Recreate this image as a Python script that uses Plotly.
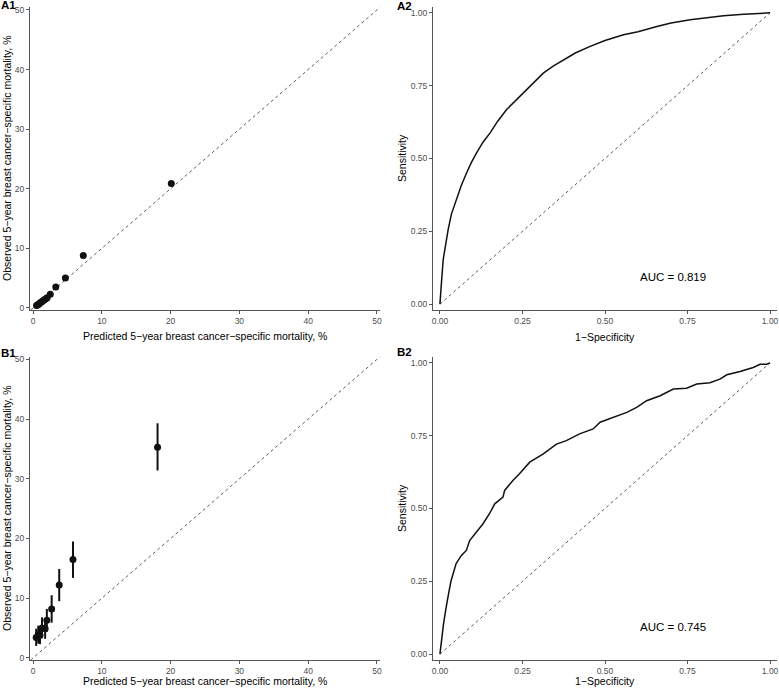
import plotly.graph_objects as go

W, H = 779, 691

# ---------------- data ----------------
# A1: calibration, development cohort
a1_pred = [0.5, 0.65, 0.8, 0.95, 1.1, 1.25, 1.45, 1.65, 1.85, 2.05, 2.5, 3.3, 4.7, 7.3, 20.1]
a1_obs = [0.40, 0.50, 0.62, 0.78, 0.92, 1.05, 1.20, 1.38, 1.55, 1.70, 2.3, 3.5, 5.0, 8.8, 20.9]

# B1: calibration, validation cohort (with 95% CI)
b1_pred = [0.45, 0.75, 1.0, 1.3, 1.75, 2.0, 2.7, 3.8, 5.8, 18.1]
b1_obs = [3.4, 3.9, 3.8, 5.0, 4.9, 6.3, 8.2, 12.2, 16.5, 35.3]
b1_lo = [2.0, 2.4, 2.3, 3.3, 3.2, 4.4, 5.9, 9.5, 13.4, 31.4]
b1_hi = [4.9, 5.4, 5.3, 6.8, 6.6, 8.2, 10.5, 14.9, 19.5, 39.3]

# A2: ROC curve, development cohort
a2_fpr = [0.0, 0.002, 0.005, 0.01, 0.018, 0.025, 0.035, 0.05, 0.065, 0.081, 0.095, 0.111, 0.13,
          0.152, 0.175, 0.202, 0.228, 0.253, 0.283, 0.313, 0.343, 0.374, 0.41, 0.455, 0.5,
          0.556, 0.6, 0.657, 0.7, 0.758, 0.8, 0.859, 0.92, 1.0]
a2_tpr = [0.0, 0.04, 0.08, 0.154, 0.21, 0.257, 0.31, 0.36, 0.408, 0.451, 0.486, 0.519, 0.555,
          0.588, 0.628, 0.668, 0.698, 0.725, 0.76, 0.793, 0.817, 0.839, 0.862, 0.885, 0.905,
          0.925, 0.935, 0.953, 0.965, 0.976, 0.982, 0.99, 0.995, 1.0]

# B2: ROC curve, validation cohort
b2_fpr = [0.0, 0.004, 0.011, 0.019, 0.024, 0.029, 0.034, 0.044, 0.049, 0.065, 0.08, 0.09, 0.11,
          0.13, 0.15, 0.166, 0.191, 0.196, 0.221, 0.241, 0.272, 0.312, 0.353, 0.383, 0.423,
          0.464, 0.485, 0.525, 0.566, 0.596, 0.626, 0.667, 0.707, 0.747, 0.778, 0.818,
          0.848, 0.869, 0.909, 0.949, 0.97, 0.99, 1.0]
b2_tpr = [0.0, 0.048, 0.105, 0.162, 0.202, 0.225, 0.253, 0.288, 0.311, 0.339, 0.356, 0.39, 0.419,
          0.447, 0.482, 0.516, 0.539, 0.562, 0.596, 0.619, 0.659, 0.687, 0.721, 0.733, 0.756,
          0.773, 0.796, 0.813, 0.83, 0.847, 0.87, 0.887, 0.91, 0.913, 0.927, 0.932,
          0.944, 0.959, 0.97, 0.984, 0.995, 0.995, 1.0]

auc_labels = ["AUC = 0.819", "AUC = 0.745"]
calib_ticks = [0, 10, 20, 30, 40, 50]
roc_ticks = [0, 0.25, 0.5, 0.75, 1.0]
roc_ticktext = ["0.00", "0.25", "0.50", "0.75", "1.00"]

x_cal_title = "Predicted 5\u2212year breast cancer\u2212specific mortality, %"
y_cal_title = "Observed 5\u2212year breast cancer\u2212specific mortality, %"
x_roc_title = "1\u2212Specificity"
y_roc_title = "Sensitivity"
panel_labels = ["A1", "A2", "B1", "B2"]

# ---------------- layout geometry (pixels) ----------------
def px_x(p):
    return p / W

def px_y(p):
    return 1 - p / H

FONT = "Liberation Sans, Arial, sans-serif"
AXCOL = "#555555"
TICKCOL = "#4D4D4D"

cal_xrange = [-0.45, 50.45]
cal_yrange_top = [-0.35, 50.5]
cal_yrange_bot = [-0.35, 50.4]
roc_range = [-0.021, 1.021]
roc_yrange = [-0.02, 1.02]

fig = go.Figure()

# A1 points
fig.add_trace(go.Scatter(x=a1_pred, y=a1_obs, mode="markers", xaxis="x", yaxis="y",
                         marker=dict(color="#111111", size=7), showlegend=False,
                         hoverinfo="skip"))
# B1 points with CIs
fig.add_trace(go.Scatter(x=b1_pred, y=b1_obs, mode="markers", xaxis="x3", yaxis="y3",
                         marker=dict(color="#111111", size=7),
                         error_y=dict(type="data", symmetric=False,
                                      array=[h - o for h, o in zip(b1_hi, b1_obs)],
                                      arrayminus=[o - l for o, l in zip(b1_obs, b1_lo)],
                                      width=0, thickness=2, color="#111111"),
                         showlegend=False, hoverinfo="skip"))
# ROC curves
fig.add_trace(go.Scatter(x=a2_fpr, y=a2_tpr, mode="lines", xaxis="x2", yaxis="y2",
                         line=dict(color="#111111", width=1.5), showlegend=False,
                         hoverinfo="skip"))
fig.add_trace(go.Scatter(x=b2_fpr, y=b2_tpr, mode="lines", xaxis="x4", yaxis="y4",
                         line=dict(color="#111111", width=1.5), showlegend=False,
                         hoverinfo="skip"))

# reference diagonals
diag_style = dict(color="#333333", width=0.8, dash="dot")
shapes = [
    dict(type="line", xref="x", yref="y", x0=cal_yrange_top[0], y0=cal_yrange_top[0],
         x1=cal_xrange[1], y1=cal_xrange[1], line=diag_style, layer="below"),
    dict(type="line", xref="x3", yref="y3", x0=cal_yrange_bot[0], y0=cal_yrange_bot[0],
         x1=cal_xrange[1], y1=cal_xrange[1], line=diag_style, layer="below"),
    dict(type="line", xref="x2", yref="y2", x0=0, y0=0, x1=1, y1=1, line=diag_style, layer="below"),
    dict(type="line", xref="x4", yref="y4", x0=0, y0=0, x1=1, y1=1, line=diag_style, layer="below"),
]


def axis(domain, rng, tickvals, ticktext=None, anchor=None):
    d = dict(domain=domain, range=rng, tickvals=tickvals, showgrid=False, zeroline=False,
             showline=True, linecolor=AXCOL, linewidth=1, ticks="outside", ticklen=3,
             tickwidth=1, tickcolor=AXCOL, tickfont=dict(family=FONT, size=8.5, color=TICKCOL),
             anchor=anchor, fixedrange=True, automargin=False, showspikes=False)
    if ticktext is not None:
        d["ticktext"] = ticktext
    return d


top_dom = [px_y(310), px_y(7)]
bot_dom = [px_y(660), px_y(357)]
left_dom = [px_x(30), px_x(380)]
right_dom = [px_x(433), px_x(777)]

layout = dict(
    width=W, height=H, margin=dict(l=0, r=0, t=0, b=0, pad=0, autoexpand=False),
    paper_bgcolor="white", plot_bgcolor="white", hovermode=False,
    font=dict(family=FONT, color="black"),
    xaxis=axis(left_dom, cal_xrange, calib_ticks, anchor="y"),
    yaxis=axis(top_dom, cal_yrange_top, calib_ticks, anchor="x"),
    xaxis2=axis(right_dom, roc_range, roc_ticks, roc_ticktext, anchor="y2"),
    yaxis2=axis(top_dom, roc_yrange, roc_ticks, roc_ticktext, anchor="x2"),
    xaxis3=axis(left_dom, cal_xrange, calib_ticks, anchor="y3"),
    yaxis3=axis(bot_dom, cal_yrange_bot, calib_ticks, anchor="x3"),
    xaxis4=axis(right_dom, roc_range, roc_ticks, roc_ticktext, anchor="y4"),
    yaxis4=axis(bot_dom, roc_yrange, roc_ticks, roc_ticktext, anchor="x4"),
    shapes=shapes,
)
fig.update_layout(**layout)

ann = []
title_font = dict(family=FONT, size=10.5, color="black")
# x titles
for cx, cy, t in [(205, 336, x_cal_title), (605, 337, x_roc_title),
                  (205, 681, x_cal_title), (605, 681, x_roc_title)]:
    ann.append(dict(text=t, x=px_x(cx), y=px_y(cy), xref="paper", yref="paper",
                    xanchor="center", yanchor="middle", showarrow=False, font=title_font))
# y titles
for cx, cy, t in [(7, 158, y_cal_title), (402, 158, y_roc_title),
                  (7, 508, y_cal_title), (402, 508, y_roc_title)]:
    ann.append(dict(text=t, x=px_x(cx), y=px_y(cy), xref="paper", yref="paper",
                    xanchor="center", yanchor="middle", showarrow=False, textangle=-90,
                    font=title_font))
# panel labels
for lx, ly, t in [(0, 5, panel_labels[0]), (396, 6, panel_labels[1]),
                  (0, 353, panel_labels[2]), (396, 352, panel_labels[3])]:
    ann.append(dict(text="<b>%s</b>" % t, x=px_x(lx), y=px_y(ly), xref="paper", yref="paper",
                    xanchor="left", yanchor="middle", showarrow=False, borderpad=0,
                    font=dict(family=FONT, size=11.5, color="black")))
# AUC labels
ann.append(dict(text=auc_labels[0], x=0.706, y=0.092, xref="x2", yref="y2", showarrow=False,
                xanchor="center", yanchor="middle", font=dict(family=FONT, size=11.5, color="black")))
ann.append(dict(text=auc_labels[1], x=0.706, y=0.092, xref="x4", yref="y4", showarrow=False,
                xanchor="center", yanchor="middle", font=dict(family=FONT, size=11.5, color="black")))
fig.update_layout(annotations=ann)

fig.write_html("out.html", config={"displayModeBar": False, "staticPlot": True},
               post_script="document.body.style.margin='0px';document.body.style.overflow='hidden';")
